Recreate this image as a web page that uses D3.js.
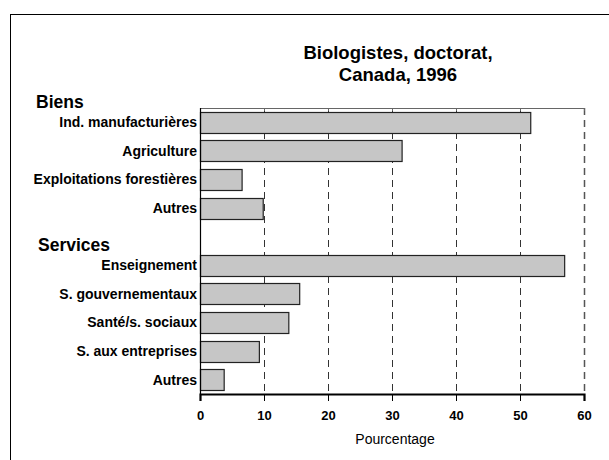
<!DOCTYPE html>
<html lang="fr">
<head>
<meta charset="UTF-8">
<title>Biologistes, doctorat, Canada, 1996</title>
<script src="https://d3js.org/d3.v7.min.js"></script>
<style>
  body { margin: 0; background: #fff; }
  svg { display: block; font-family: "Liberation Sans", Arial, sans-serif; }
</style>
</head>
<body>
<svg id="chart" width="609" height="460"></svg>
<script>
// categories in display order; "" is the empty row between the two groups
const categories = [
  "Ind. manufacturières", "Agriculture", "Exploitations forestières", "Autres",
  "",
  "Enseignement", "S. gouvernementaux", "Santé/s. sociaux", "S. aux entreprises", "Autres "
];
const values = [51.6, 31.5, 6.5, 9.8, null, 56.9, 15.5, 13.8, 9.2, 3.7];
const groups = [
  { label: "Biens", row: 0 },
  { label: "Services", row: 5 }
];
const xTicks = [0, 10, 20, 30, 40, 50, 60];
const titleLines = ["Biologistes, doctorat,", "Canada, 1996"];
const xLabel = "Pourcentage";

const svg = d3.select("#chart");
const plotLeft = 200, plotRight = 584, plotTop = 108, plotBottom = 394;

// outer frame (runs off the right and bottom edges)
svg.append("rect")
  .attr("x", 10.5).attr("y", 14.5)
  .attr("width", 700).attr("height", 600)
  .attr("fill", "none").attr("stroke", "#000").attr("stroke-width", 1);

const x = d3.scaleLinear().domain([0, 60]).range([plotLeft, plotRight]);
const y = d3.scaleBand().domain(d3.range(categories.length)).range([plotTop, plotBottom]).paddingInner(0.27).paddingOuter(0.135);

// dashed grid
svg.append("g").selectAll("line")
  .data(xTicks.filter(d => d > 0))
  .join("line")
  .attr("x1", d => Math.round(x(d)) + 0.5).attr("x2", d => Math.round(x(d)) + 0.5)
  .attr("y1", plotTop).attr("y2", plotBottom)
  .attr("stroke", d => d === 60 ? "#555" : "#333")
  .attr("stroke-width", d => d === 60 ? 1.5 : 1)
  .attr("stroke-dasharray", "7,5");

// top border with small inward ticks
svg.append("line")
  .attr("x1", plotLeft).attr("x2", plotRight).attr("y1", plotTop + 0.5).attr("y2", plotTop + 0.5)
  .attr("stroke", "#666").attr("stroke-width", 1);
svg.append("g").selectAll("line")
  .data(xTicks)
  .join("line")
  .attr("x1", d => Math.round(x(d)) + 0.5).attr("x2", d => Math.round(x(d)) + 0.5)
  .attr("y1", plotTop).attr("y2", plotTop + 3)
  .attr("stroke", "#666");

// bars
svg.append("g").selectAll("rect")
  .data(values.map((v, i) => ({ v, i })).filter(d => d.v !== null))
  .join("rect")
  .attr("x", plotLeft + 0.5)
  .attr("y", d => Math.round(y(d.i)) + 0.5)
  .attr("width", d => x(d.v) - plotLeft)
  .attr("height", Math.round(y.bandwidth()))
  .attr("fill", "#c6c6c6")
  .attr("stroke", "#222").attr("stroke-width", 1.2);

// left axis line
svg.append("line")
  .attr("x1", plotLeft + 0.5).attr("x2", plotLeft + 0.5).attr("y1", plotTop).attr("y2", plotBottom)
  .attr("stroke", "#000").attr("stroke-width", 1.2);

// bottom axis
const xAxis = svg.append("g")
  .attr("transform", `translate(0,${plotBottom})`)
  .call(d3.axisBottom(x).tickValues(xTicks).tickSize(7).tickPadding(10).tickFormat(d3.format("d")));
xAxis.select(".domain").attr("stroke", "#000").attr("stroke-width", 2.2);
xAxis.selectAll(".tick line").attr("stroke", "#000").attr("stroke-width", 1);
xAxis.selectAll(".tick text")
  .attr("font-family", "Liberation Sans, Arial, sans-serif")
  .attr("font-size", 13).attr("font-weight", "bold").attr("fill", "#000");

svg.append("text")
  .attr("x", 395).attr("y", 444)
  .attr("text-anchor", "middle")
  .attr("font-size", 14).attr("fill", "#000")
  .text(xLabel);

// category labels
svg.append("g").selectAll("text")
  .data(categories)
  .join("text")
  .attr("x", 197)
  .attr("y", (d, i) => y(i) + y.bandwidth() / 2)
  .attr("dy", "0.35em")
  .attr("text-anchor", "end")
  .attr("font-size", 14).attr("font-weight", "bold").attr("fill", "#000")
  .text(d => d.trim());

// group headers
svg.append("g").selectAll("text")
  .data(groups)
  .join("text")
  .attr("x", (d, i) => i === 0 ? 36 : 38)
  .attr("y", d => d.row === 0 ? plotTop : y(d.row - 1) + y.bandwidth() / 2 + 14)
  .attr("font-size", 17.5).attr("font-weight", "bold").attr("fill", "#000")
  .text(d => d.label);

// title
svg.append("g").selectAll("text")
  .data(titleLines)
  .join("text")
  .attr("x", 398)
  .attr("y", (d, i) => 59 + i * 22)
  .attr("text-anchor", "middle")
  .attr("font-size", 18.5).attr("font-weight", "bold").attr("fill", "#000")
  .text(d => d);
</script>
</body>
</html>
